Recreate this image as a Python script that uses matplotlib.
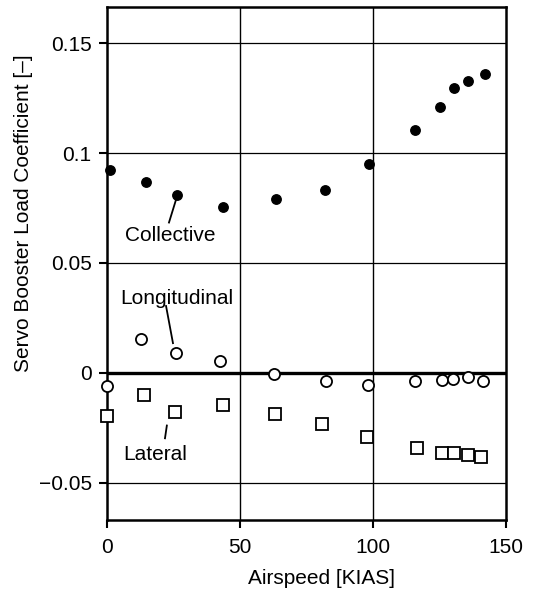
import matplotlib
matplotlib.use("Agg")
import matplotlib.pyplot as plt

plt.rcParams['font.family'] = ['Liberation Sans', 'DejaVu Sans']

# Data
coll_x = [1.1, 14.5, 26.2, 43.5, 63.5, 82.0, 98.4, 115.9, 125.2, 130.5, 135.7, 142.0]
coll_y = [0.0922, 0.0869, 0.0809, 0.0754, 0.0790, 0.0831, 0.0950, 0.1105, 0.1212, 0.1295, 0.1330, 0.1358]

long_x = [0.0, 12.9, 25.9, 42.6, 62.7, 82.3, 98.1, 115.8, 125.8, 130.2, 135.7, 141.3]
long_y = [-0.0062, 0.0153, 0.0090, 0.0055, -0.0005, -0.0039, -0.0055, -0.0039, -0.0035, -0.0026, -0.0018, -0.0039]

lat_x = [0.0, 14.0, 25.6, 43.6, 63.2, 81.0, 97.7, 116.4, 125.8, 130.4, 135.6, 140.6]
lat_y = [-0.0198, -0.0101, -0.0180, -0.0148, -0.0189, -0.0233, -0.0293, -0.0343, -0.0364, -0.0367, -0.0373, -0.0382]

x_ticks = [0, 50, 100, 150]
x_ticklabels = ['0', '50', '100', '150']
y_ticks = [-0.05, 0, 0.05, 0.1, 0.15]
y_ticklabels = ['\u22120.05', '0', '0.05', '0.1', '0.15']

W, H = 538, 593
FS = 15
fig = plt.figure(figsize=(W / 100, H / 100), dpi=100)
ax = fig.add_axes([107 / W, 1 - 520 / H, (506 - 107) / W, (520 - 7) / H])

ax.set_xlim(0, 150)
ax.set_ylim(-0.067, 0.1665)

# grid
for gx in [50, 100]:
    ax.axvline(gx, color='black', lw=1.0, zorder=1)
for gy in [-0.05, 0.05, 0.1, 0.15]:
    ax.axhline(gy, color='black', lw=0.9, zorder=1)
ax.axhline(0, color='black', lw=2.4, zorder=1)

ax.plot(coll_x, coll_y, 'o', ms=6.8, mfc='black', mec='black', clip_on=False, zorder=3)
ax.plot(long_x, long_y, 'o', ms=8.0, mfc='white', mec='black', mew=1.3, clip_on=False, zorder=3)
ax.plot(lat_x, lat_y, 's', ms=8.5, mfc='white', mec='black', mew=1.3, clip_on=False, zorder=3)

ax.set_xticks(x_ticks)
ax.set_xticklabels(x_ticklabels)
ax.set_yticks(y_ticks)
ax.set_yticklabels(y_ticklabels)
ax.tick_params(direction='out', length=6, width=1.5, labelsize=FS, color='black')
ax.tick_params(axis='x', pad=7)
ax.tick_params(axis='y', pad=5)
for s in ax.spines.values():
    s.set_linewidth(1.8)

# annotations (labels and leader lines)
ax.text(23.7, 0.0624, 'Collective', fontsize=FS, ha='center', va='center')
ax.plot([23.3, 26.0], [0.0684, 0.0790], color='black', lw=1.3)
ax.text(26.1, 0.0336, 'Longitudinal', fontsize=FS, ha='center', va='center')
ax.plot([22.2, 24.8], [0.0304, 0.0135], color='black', lw=1.3)
ax.text(18.2, -0.0373, 'Lateral', fontsize=FS, ha='center', va='center')
ax.plot([22.5, 21.8], [-0.0240, -0.0298], color='black', lw=1.3)

fig.text(24 / W, 1 - 213.5 / H, 'Servo Booster Load Coefficient [\u2013]', rotation=90,
         fontsize=FS, ha='center', va='center')
fig.text(321 / W, 1 - 578 / H, 'Airspeed [KIAS]', fontsize=FS, ha='center', va='center')

fig.savefig('out.png', dpi=100)
